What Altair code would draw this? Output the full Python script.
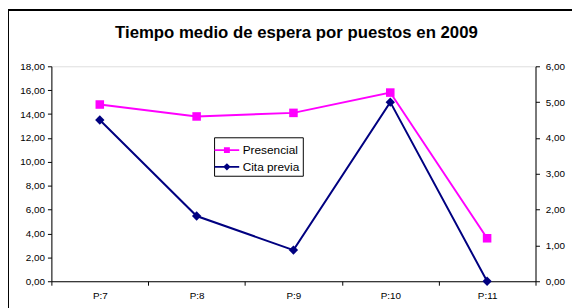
import altair as alt
import pandas as pd

categories = ["P:7", "P:8", "P:9", "P:10", "P:11"]
presencial = [14.8, 13.8, 14.1, 15.8, 3.6]
cita_previa = [4.5, 1.82, 0.87, 5.0, 0.0]
left_ticks = [0, 2, 4, 6, 8, 10, 12, 14, 16, 18]
right_ticks = [0, 1, 2, 3, 4, 5, 6]
series_names = ["Presencial", "Cita previa"]
series_colors = ["#ff00ff", "#000080"]
title_text = "Tiempo medio de espera por puestos en 2009"

FONT = "Liberation Sans"
W, H = 491, 218

df_p = pd.DataFrame({"cat": categories, "value": presencial, "serie": "Presencial"})
df_c = pd.DataFrame({"cat": categories, "value": cita_previa, "serie": "Cita previa"})
df_all = pd.concat([df_p, df_c])

label_expr = "replace(format(datum.value, '.2f'), '.', ',')"

x_enc = alt.X(
    "cat:N", sort=categories, bandPosition=0.5,
    scale=alt.Scale(type="band", paddingInner=0, paddingOuter=0),
    axis=alt.Axis(title=None, labelAngle=0, tickBand="extent", grid=False,
                  labelFontSize=10, labelFont=FONT, labelColor="black",
                  domainColor="black", tickColor="black", tickSize=4,
                  labelPadding=6),
)

y_left = alt.Y(
    "value:Q", scale=alt.Scale(domain=[0, 18], nice=False),
    axis=alt.Axis(title=None, values=left_ticks, labelExpr=label_expr, grid=False,
                  labelFontSize=10, labelFont=FONT, labelColor="black",
                  domainColor="black", tickColor="black", tickSize=4,
                  labelPadding=3, orient="left"),
)
y_right = alt.Y(
    "value:Q", scale=alt.Scale(domain=[0, 6], nice=False),
    axis=alt.Axis(title=None, values=right_ticks, labelExpr=label_expr, grid=False,
                  labelFontSize=10, labelFont=FONT, labelColor="black",
                  domainColor="black", tickColor="black", tickSize=4,
                  labelPadding=6, orient="right"),
)

base_p = alt.Chart(df_p)
layer_p = alt.layer(
    base_p.mark_line(color=series_colors[0], strokeWidth=2).encode(x=x_enc, y=y_left),
    base_p.mark_point(shape="square", filled=True, color=series_colors[0], size=75, opacity=1).encode(x=x_enc, y=y_left),
)
base_c = alt.Chart(df_c)
layer_c = alt.layer(
    base_c.mark_line(color=series_colors[1], strokeWidth=2).encode(x=x_enc, y=y_right),
    base_c.mark_point(shape="diamond", filled=True, color=series_colors[1], size=90, opacity=1).encode(x=x_enc, y=y_right),
)

sq_path = "M-1.25,-0.08H1.25V0.08H-1.25Z M-0.3,-0.3H0.3V0.3H-0.3Z"
dm_path = "M-1.25,-0.08H1.25V0.08H-1.25Z M0,-0.38L0.38,0L0,0.38L-0.38,0Z"

legend_layer = alt.Chart(df_all).mark_point(filled=True, opacity=1).encode(
    color=alt.Color("serie:N", scale=alt.Scale(domain=series_names, range=series_colors),
                    legend=alt.Legend(title=None, orient="none", legendX=165, legendY=72,
                                      symbolSize=400, labelFont=FONT, labelFontSize=12,
                                      labelColor="black", strokeColor="black", padding=3,
                                      labelOffset=6, rowPadding=1, symbolStrokeWidth=0)),
    shape=alt.Shape("serie:N", scale=alt.Scale(domain=series_names, range=[sq_path, dm_path])),
).transform_filter("false")

one_row = alt.Data(values=[{"t": title_text}])

border = alt.Chart(one_row).mark_rect(
    fill="transparent", stroke="black", strokeWidth=2, strokeOpacity=1
).encode(x=alt.value(-44), x2=alt.value(W + 60), y=alt.value(-57), y2=alt.value(H + 60))

title_mark = alt.Chart(one_row).mark_text(
    font=FONT, fontSize=17, fontWeight="bold", color="black", align="center", baseline="alphabetic"
).encode(text="t:N", x=alt.value(248.5), y=alt.value(-29))

chart = alt.layer(layer_p, layer_c, legend_layer, border, title_mark).resolve_scale(y="independent").properties(
    width=W, height=H,
    autosize=alt.AutoSizeParams(type="none"),
    padding={"left": 44, "top": 57, "right": 37, "bottom": 25},
).configure_view(fill="#c0c0c0", stroke="#808080", strokeWidth=1).configure(background="white")

chart.save("out.html", embed_options={"renderer": "svg", "actions": False})
